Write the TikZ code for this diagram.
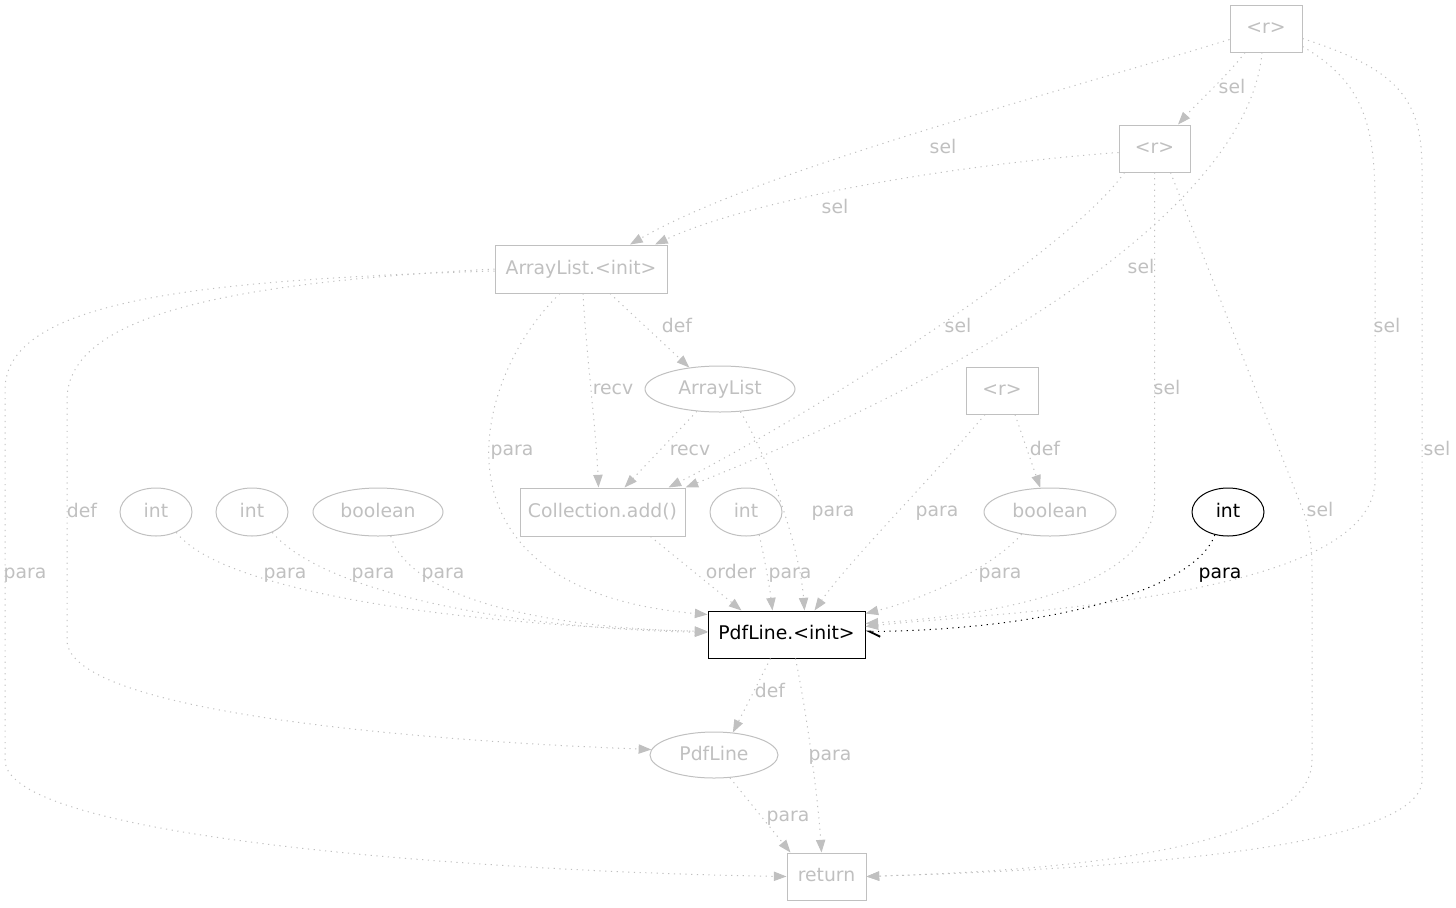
\documentclass[tikz,border=0pt]{standalone}
\usepackage{fontspec}
\setmainfont{DejaVu Sans}
\usetikzlibrary{arrows.meta,shapes.geometric,calc}
\definecolor{lg}{RGB}{192,192,192}
\begin{document}
\begin{tikzpicture}[x=0.75pt,y=-0.75pt,
  every node/.style={font=\fontsize{14.1}{16}\selectfont, inner sep=0pt, text height=10.4pt, text depth=2.6pt},
  gbox/.style 2 args={draw=lg, text=lg, line width=0.75pt, rectangle, minimum width=#1*0.75pt, minimum height=#2*0.75pt},
  bbox/.style 2 args={draw=black, text=black, line width=0.75pt, rectangle, minimum width=#1*0.75pt, minimum height=#2*0.75pt},
  gell/.style 2 args={draw=lg, text=lg, line width=0.75pt, ellipse, minimum width=#1*0.75pt, minimum height=#2*0.75pt},
  bell/.style 2 args={draw=black, text=black, line width=0.75pt, ellipse, minimum width=#1*0.75pt, minimum height=#2*0.75pt},
  ed/.style={draw=lg, line width=0.75pt, dash pattern=on 0.9pt off 3.4pt, -{Triangle[length=9.5pt,width=7pt,fill=lg,color=lg]}},
  edb/.style={draw=black, line width=0.75pt, dash pattern=on 0.9pt off 3.4pt, -{Straight Barb[harpoon,length=8pt,width=8pt,line width=1.4pt]}},
  lbl/.style={text=lg},
  lblb/.style={text=black}
]
\useasboundingbox (0,0) rectangle (1456,907);
% nodes
\node[gbox={72}{47}] (r1) at (1266,28.5) {<r>};
\node[gbox={71}{47}] (r2) at (1154.5,148.5) {<r>};
\node[gbox={172}{48}] (AL) at (581,269) {ArrayList.<init>};
\node[gell={150}{46}] (AList) at (720,389) {ArrayList};
\node[gbox={72}{47}] (r3) at (1002,390.5) {<r>};
\node[gbox={165}{48}] (Coll) at (602.5,512) {Collection.add()};
\node[gell={72}{48}] (int1) at (156,512) {int};
\node[gell={72}{48}] (int2) at (252,512) {int};
\node[gell={130}{48}] (bool1) at (378,512) {boolean};
\node[gell={72}{48}] (int3) at (746,512) {int};
\node[gell={132}{48}] (bool2) at (1050,512) {boolean};
\node[bell={72}{48}] (int4) at (1228,512) {int};
\node[bbox={157}{47}] (PI) at (786.5,634.5) {PdfLine.<init>};
\node[gell={128}{46}] (PL) at (714,755) {PdfLine};
\node[gbox={79}{47}] (ret) at (826.5,876.5) {return};
% edges
\draw[ed] ($(r1.west)+(0,11)$) .. controls (1050,95) and (760,170) .. ($(AL.north)+(49,0)$);
\draw[ed] ($(r1.south)+(-21,0)$) .. controls (1228,75) and (1200,100) .. ($(r2.north)+(23.5,0)$);
\draw[ed] ($(r1.south)+(-4,0)$) .. controls (1250,190) and (1030,350) .. (Coll.north east);
\draw[ed] ($(r1.east)+(0,18)$) .. controls (1360,80) and (1375,120) .. (1375,200) -- (1375,480) .. controls (1375,600) and (1000,612) .. ($(PI.east)+(0,-8)$);
\draw[ed] ($(r1.east)+(0,10)$) .. controls (1400,70) and (1422,100) .. (1422,170) -- (1422,780) .. controls (1422,860) and (1000,872) .. (ret.east);
\draw[ed] ($(r2.west)+(0,4)$) .. controls (950,165) and (750,200) .. ($(AL.north)+(74,0)$);
\draw[ed] ($(r2.south)+(-30,0)$) .. controls (1070,250) and (820,410) .. ($(Coll.north)+(66,0)$);
\draw[ed] (r2.south) -- (1154.5,500) .. controls (1154.5,600) and (950,618) .. ($(PI.east)+(0,-11)$);
\draw[ed] ($(r2.south)+(16,0)$) -- (1295,490) .. controls (1305,515) and (1312,530) .. (1312,570) -- (1312,760) .. controls (1312,860) and (1000,872) .. (ret.east);
\draw[ed] ($(AL.south)+(29,0)$) -- (AList.145);
\draw[ed] ($(AL.south)+(2,0)$) .. controls (586,350) and (596,430) .. ($(Coll.north)+(-4,0)$);
\draw[ed] ($(AL.south)+(-21,0)$) .. controls (470,380) and (420,590) .. ($(PI.west)+(0,-20)$);
\draw[ed] (AL.west) .. controls (250,282) and (67,310) .. (67,400) -- (67,640) .. controls (67,710) and (400,740) .. (PL.175);
\draw[ed] ($(AL.west)+(0,2)$) .. controls (200,280) and (5,300) .. (5,390) -- (5,760) .. controls (5,840) and (500,872) .. (ret.west);
\draw[ed] (AList.-136) -- ($(Coll.north)+(22,0)$);
\draw[ed] (AList.-48) .. controls (770,460) and (800,550) .. ($(PI.north)+(18,0)$);
\draw[ed] ($(Coll.south)+(48,0)$) -- ($(PI.north)+(-45,0)$);
\draw[ed] (int1.-45) .. controls (220,590) and (450,625) .. ($(PI.west)+(0,-3)$);
\draw[ed] (int2.-45) .. controls (320,590) and (500,628) .. ($(PI.west)+(0,-2)$);
\draw[ed] (bool1.-62) .. controls (410,600) and (550,628) .. ($(PI.west)+(0,-3)$);
\draw[ed] (int3.-60) .. controls (765,560) and (770,590) .. ($(PI.north)+(-14,0)$);
\draw[ed] ($(r3.south)+(-17,0)$) .. controls (930,480) and (850,560) .. ($(PI.north)+(28,0)$);
\draw[ed] ($(r3.south)+(13,0)$) -- (bool2.112);
\draw[ed] (bool2.-142) .. controls (990,570) and (920,600) .. ($(PI.east)+(0,-21)$);
\draw[edb] (int4.-120) .. controls (1195,590) and (1050,630) .. ($(PI.east)+(0,-3)$);
\draw[ed] ($(PI.south)+(-16,0)$) -- (PL.50);
\draw[ed] ($(PI.south)+(9,0)$) .. controls (808,720) and (818,800) .. ($(ret.north)+(-5,0)$);
\draw[ed] (PL.-55) -- ($(ret.north west)+(4,0)$);
% labels
\node[lbl] (l1) at (943,148) {sel};
\node[lbl] (l2) at (1232,88) {sel};
\node[lbl] (l3) at (835,208) {sel};
\node[lbl] (l4) at (1141,268) {sel};
\node[lbl] (l5) at (1387,327) {sel};
\node[lbl] (l6) at (958,327) {sel};
\node[lbl] (l7) at (1167,389) {sel};
\node[lbl] (l8) at (1437,450) {sel};
\node[lbl] (l9) at (1320,511) {sel};
\node[lbl] (l10) at (677,327) {def};
\node[lbl] (l11) at (613,389) {recv};
\node[lbl] (l12) at (512,450) {para};
\node[lbl] (l13) at (82,512) {def};
\node[lbl] (l14) at (25,573) {para};
\node[lbl] (l15) at (690,450) {recv};
\node[lbl] (l16) at (833,511) {para};
\node[lbl] (l17) at (731,573) {order};
\node[lbl] (l18) at (285,573) {para};
\node[lbl] (l19) at (373,573) {para};
\node[lbl] (l20) at (443,573) {para};
\node[lbl] (l21) at (790,573) {para};
\node[lbl] (l22) at (937,511) {para};
\node[lbl] (l23) at (1045,450) {def};
\node[lbl] (l24) at (1000,573) {para};
\node[lblb] (l25) at (1220,573) {para};
\node[lbl] (l26) at (770,692) {def};
\node[lbl] (l27) at (830,755) {para};
\node[lbl] (l28) at (788,816) {para};
\end{tikzpicture}
\end{document}
